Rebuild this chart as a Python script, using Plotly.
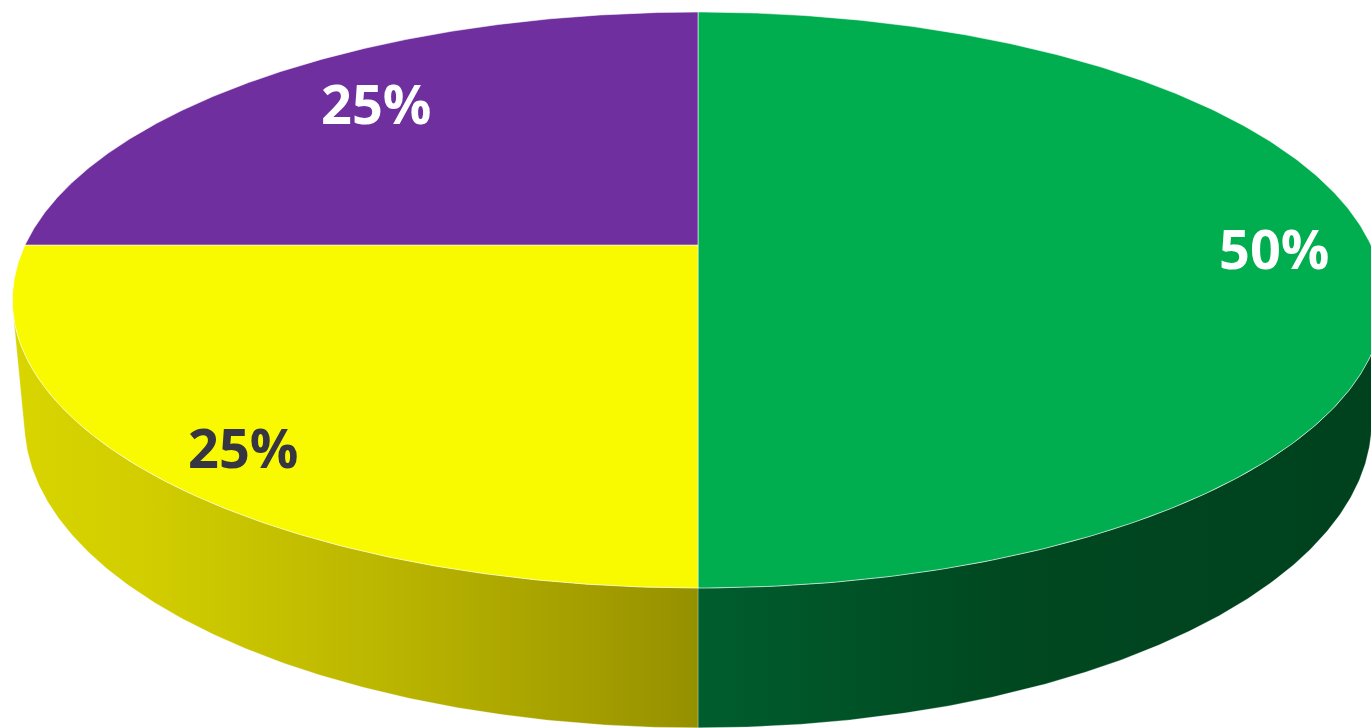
import numpy as np
import plotly.graph_objects as go

# ---- data ----
categories = ["Green", "Yellow", "Purple"]
values = [50, 25, 25]
label_texts = ["50%", "25%", "25%"]

# ---- styles ----
top_colors = ["#00ae4f", "#f9f900", "#6f2f9f"]
side_scales = [
    [[0, "#005d2e"], [0.15, "#005629"], [0.45, "#004820"], [1, "#00411e"]],
    [[0, "#d8d500"], [0.2, "#d1cd00"], [0.55, "#bab500"], [0.85, "#a39d00"], [1, "#959000"]],
    [[0, "#4a1f6b"], [1, "#3a1855"]],
]
label_colors = ["#ffffff", "#363642", "#ffffff"]
label_radius = [0.854, 0.872, 0.776]
label_angle_shift_deg = [0.8, -2.1, 1.9]

W, H = 1371, 728
CX, CY = 698.0, 245.0
F, L = 3210.0, 4.77
SA = 0.4123
CA = np.sqrt(1 - SA ** 2)
DEPTH = 0.198


def proj(u, v, z):
    u = np.asarray(u, float)
    v = np.asarray(v, float)
    d = v * CA + L - z * SA
    yc = v * SA + z * CA
    return CX + F * u / d, CY - F * yc / d


fig = go.Figure()
total = float(sum(values))
bounds = np.concatenate([[0], np.cumsum(values)]) / total * 2 * np.pi

# visible range of the cylinder wall
vlim = -1.0 / (L * CA)
t_vis0 = np.arccos(vlim)
t_vis1 = 2 * np.pi - t_vis0

# side walls
for i in range(len(values)):
    a = max(bounds[i], t_vis0)
    b = min(bounds[i + 1], t_vis1)
    if b <= a:
        continue
    t = np.linspace(a, b, 200)
    xt, yt = proj(np.sin(t), np.cos(t), 0.0)
    xb, yb = proj(np.sin(t[::-1]), np.cos(t[::-1]), -DEPTH)
    xs = np.concatenate([xt, xb, xt[:1]])
    ys = np.concatenate([yt, yb, yt[:1]])
    fig.add_trace(go.Scatter(
        x=xs, y=ys, mode="lines", fill="toself",
        line=dict(width=0.8, color="rgba(255,255,255,0.35)"),
        fillgradient=dict(type="horizontal", colorscale=side_scales[i]),
        hoverinfo="skip", showlegend=False,
    ))

# top faces
for i in range(len(values)):
    t = np.linspace(bounds[i], bounds[i + 1], 300)
    us = np.concatenate([[0], np.sin(t), [0]])
    vs = np.concatenate([[0], np.cos(t), [0]])
    x, y = proj(us, vs, 0.0)
    fig.add_trace(go.Scatter(
        x=x, y=y, mode="lines", fill="toself", fillcolor=top_colors[i],
        line=dict(width=1, color="rgba(255,255,255,0.55)"),
        name=categories[i], hoverinfo="name", showlegend=False,
    ))

# labels
for i in range(len(values)):
    tm = 0.5 * (bounds[i] + bounds[i + 1]) + np.radians(label_angle_shift_deg[i])
    r = label_radius[i]
    lx, ly = proj(r * np.sin(tm), r * np.cos(tm), 0.0)
    fig.add_annotation(
        x=float(lx), y=float(ly), text=label_texts[i], showarrow=False,
        font=dict(family="Open Sans", size=54, color=label_colors[i], weight=700),
        xanchor="center", yanchor="middle",
    )

fig.update_layout(
    width=W, height=H,
    margin=dict(l=0, r=0, t=0, b=0),
    paper_bgcolor="white", plot_bgcolor="white",
    xaxis=dict(range=[0, W], visible=False, fixedrange=True),
    yaxis=dict(range=[H, 0], visible=False, fixedrange=True),
    showlegend=False,
)

fig.write_html(
    "out.html",
    config={"displayModeBar": False},
    post_script="document.body.style.margin='0';document.body.style.overflow='hidden';",
)
